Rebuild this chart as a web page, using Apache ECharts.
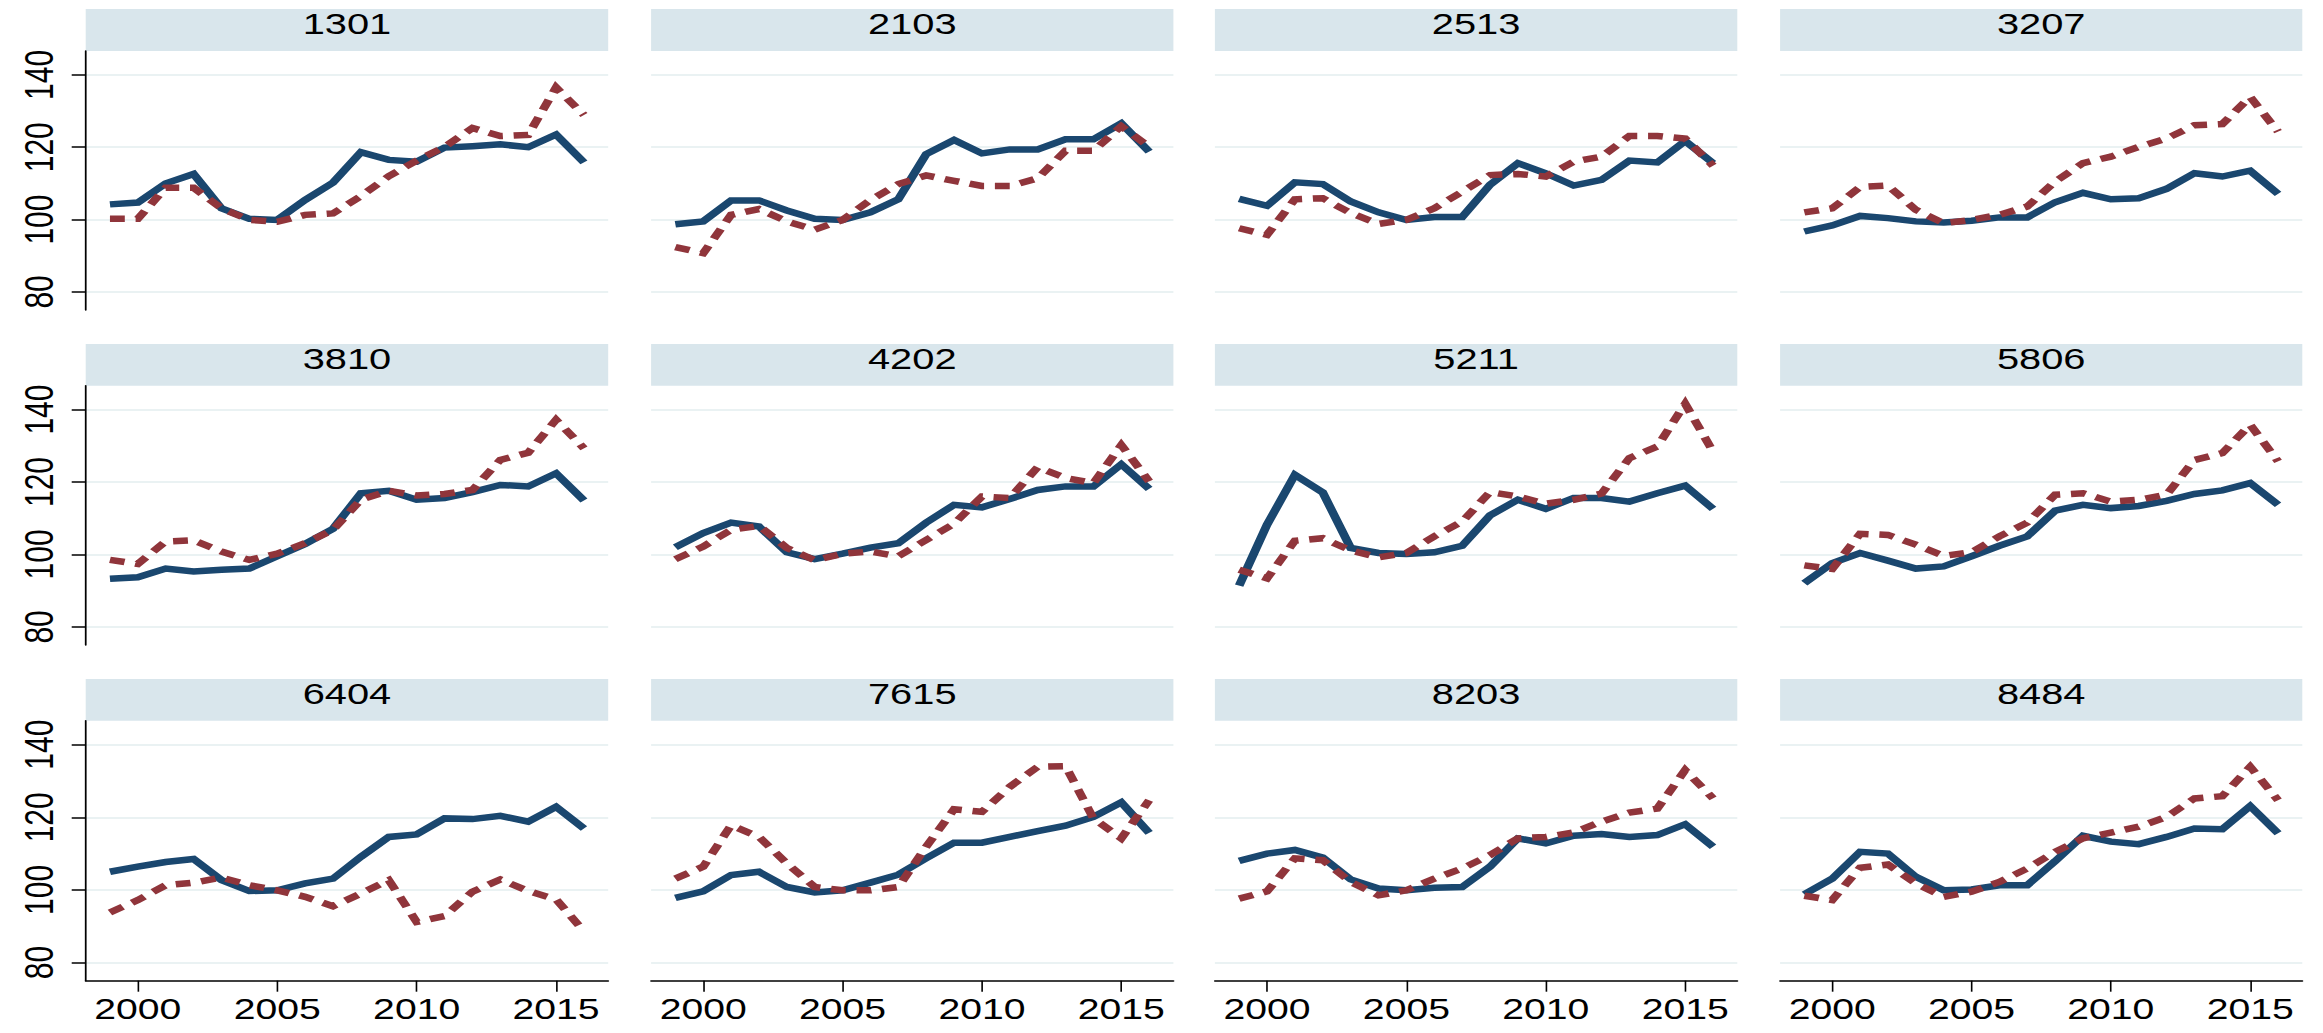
<!DOCTYPE html>
<html>
<head>
<meta charset="utf-8">
<script src="https://cdn.jsdelivr.net/npm/echarts@6/dist/echarts.min.js"></script>
<style>
  html, body { margin: 0; padding: 0; background: #ffffff; overflow: hidden; }
  #chart { height: 1033px; transform-origin: 0 0; }
</style>
</head>
<body>
<div id="chart"></div>
<script>
// Years on the horizontal axis and the panel codes (one small multiple per code)
const years = [1999, 2000, 2001, 2002, 2003, 2004, 2005, 2006, 2007, 2008, 2009, 2010, 2011, 2012, 2013, 2014, 2015, 2016];
const panelCodes = ['1301', '2103', '2513', '3207', '3810', '4202', '5211', '5806', '6404', '7615', '8203', '8484'];
const yTickValues = [80, 100, 120, 140];
const xTickValues = [2000, 2005, 2010, 2015];

// Solid navy series, per panel
const navy1301 = [104.2, 104.7, 110.0, 112.6, 103.1, 100.2, 99.9, 105.4, 110.2, 118.6, 116.5, 116.0, 119.9, 120.3, 120.8, 120.0, 123.5, 115.8];
const navy2103 = [98.7, 99.5, 105.3, 105.3, 102.5, 100.2, 99.9, 102.0, 105.6, 118.1, 122.0, 118.3, 119.4, 119.4, 122.2, 122.2, 126.6, 118.8];
const navy2513 = [105.7, 103.8, 110.3, 109.8, 105.0, 102.0, 99.9, 100.7, 100.7, 109.6, 115.6, 112.8, 109.4, 111.0, 116.3, 115.8, 121.7, 115.6];
const navy3207 = [96.7, 98.4, 101.0, 100.4, 99.5, 99.2, 99.7, 100.6, 100.6, 104.8, 107.4, 105.6, 105.9, 108.5, 112.8, 111.9, 113.5, 107.1];
const navy3810 = [93.3, 93.7, 96.1, 95.3, 95.8, 96.1, 99.5, 102.9, 107.1, 116.9, 117.6, 115.1, 115.6, 117.2, 119.2, 118.8, 122.4, 114.9];
const navy4202 = [102.0, 105.9, 108.8, 107.7, 100.6, 98.7, 100.2, 101.9, 103.1, 108.8, 113.7, 113.0, 115.3, 117.8, 118.8, 118.8, 124.9, 118.1];
const navy5211 = [91.4, 108.2, 122.0, 117.1, 101.8, 100.4, 100.1, 100.6, 102.4, 110.8, 115.1, 112.6, 115.6, 115.6, 114.6, 116.9, 119.0, 112.6];
const navy5806 = [92.1, 97.6, 100.4, 98.3, 96.1, 96.7, 99.5, 102.4, 105.0, 112.1, 113.7, 112.8, 113.4, 114.8, 116.7, 117.7, 119.7, 113.7];
const navy6404 = [105.0, 106.4, 107.7, 108.5, 102.7, 99.7, 99.9, 101.8, 103.1, 109.1, 114.6, 115.3, 119.7, 119.5, 120.4, 118.8, 122.9, 116.9];
const navy7615 = [97.8, 99.6, 104.1, 105.0, 100.8, 99.3, 99.9, 102.0, 104.2, 108.7, 113.0, 113.0, 114.6, 116.2, 117.7, 120.1, 124.1, 115.7];
const navy8203 = [108.0, 110.0, 111.0, 108.9, 102.9, 100.4, 99.9, 100.6, 100.8, 106.4, 114.2, 112.8, 114.9, 115.4, 114.6, 115.1, 118.1, 111.9];
const navy8484 = [98.8, 103.1, 110.5, 110.0, 103.6, 99.9, 100.1, 101.3, 101.3, 107.9, 114.9, 113.3, 112.6, 114.6, 116.9, 116.7, 123.1, 115.6];

// Dashed maroon series, per panel
const maroon1301 = [100.2, 100.2, 108.8, 108.8, 103.1, 99.9, 99.4, 101.3, 101.7, 106.5, 112.0, 116.3, 120.1, 125.3, 123.1, 123.4, 136.5, 128.9];
const maroon2103 = [92.4, 90.7, 101.3, 102.9, 99.5, 97.2, 99.9, 105.4, 109.8, 112.2, 110.7, 109.3, 109.3, 111.4, 119.0, 119.0, 125.8, 120.1];
const maroon2513 = [97.6, 95.8, 105.6, 105.9, 101.8, 98.8, 99.9, 103.1, 107.7, 112.3, 112.6, 111.9, 116.0, 117.4, 123.1, 123.1, 122.4, 114.9];
const maroon3207 = [102.0, 103.1, 109.0, 109.4, 102.7, 99.0, 99.9, 101.3, 103.6, 110.5, 115.6, 117.4, 120.1, 122.4, 126.1, 126.4, 133.9, 124.3];
const maroon3810 = [98.5, 97.4, 103.6, 103.9, 100.8, 98.5, 100.2, 103.1, 106.8, 115.1, 117.6, 116.3, 116.7, 117.8, 126.1, 128.1, 137.2, 129.3];
const maroon4202 = [98.7, 102.2, 106.8, 107.9, 101.8, 98.4, 100.2, 100.8, 99.5, 104.0, 108.5, 116.0, 115.6, 124.1, 121.1, 119.7, 130.2, 120.2];
const maroon5211 = [95.8, 93.4, 103.8, 104.5, 101.1, 99.2, 100.4, 105.0, 109.1, 117.2, 116.0, 114.0, 115.1, 116.8, 126.6, 129.8, 141.6, 128.4];
const maroon5806 = [97.0, 96.0, 105.7, 105.4, 102.7, 99.6, 100.6, 105.0, 108.8, 116.5, 116.9, 114.6, 115.1, 116.5, 126.1, 128.0, 135.8, 125.7];
const maroon6404 = [93.8, 97.2, 101.3, 102.0, 103.4, 101.3, 99.9, 98.1, 95.5, 99.0, 102.7, 91.2, 92.8, 99.5, 102.9, 99.7, 97.4, 88.6];
const maroon7615 = [103.1, 106.4, 117.8, 114.6, 107.3, 100.8, 99.9, 99.9, 100.8, 111.9, 122.2, 121.5, 128.4, 133.9, 134.1, 119.7, 114.2, 124.7];
const maroon8203 = [97.6, 99.6, 108.7, 108.2, 102.2, 98.5, 99.9, 103.1, 105.9, 109.6, 114.2, 114.6, 115.8, 118.8, 121.3, 122.4, 133.0, 125.2];
const maroon8484 = [98.4, 97.2, 106.1, 107.0, 101.8, 98.1, 99.5, 102.2, 105.9, 110.5, 114.2, 115.8, 117.4, 120.1, 125.2, 125.8, 133.9, 124.7];

const navySeries = [navy1301, navy2103, navy2513, navy3207, navy3810, navy4202, navy5211, navy5806, navy6404, navy7615, navy8203, navy8484];
const maroonSeries = [maroon1301, maroon2103, maroon2513, maroon3207, maroon3810, maroon4202, maroon5211, maroon5806, maroon6404, maroon7615, maroon8203, maroon8484];

// The figure is drawn on a narrower canvas and widened horizontally by STRETCH,
// giving the wide, horizontally stretched lettering and strokes of the layout.
const PAGE_W = 2323, PAGE_H = 1033;
const STRETCH = 1.35;
const sx = v => v / STRETCH;

// Panel layout in page pixels: column spans and row header / plot extents
const colSpans = [[85.7, 608.2], [651.1, 1173.4], [1214.9, 1737.3], [1780.1, 2302.3]];
const rowSpans = [
  { head: 9, top: 51, bottom: 310 },
  { head: 344, top: 385.7, bottom: 645 },
  { head: 679, top: 720.7, bottom: 980.7 }
];

const FONT = "'Liberation Sans', Arial, sans-serif";
const NAVY = '#1a476f';
const MAROON = '#90353b';
const STRIP = '#d9e6ec';
const GRIDLINE = '#eaf2f3';

const grids = [], xAxes = [], yAxes = [], series = [], graphics = [];

panelCodes.forEach((code, i) => {
  const row = Math.floor(i / 4), col = i % 4;
  const [x0, x1] = colSpans[col];
  const r = rowSpans[row];
  const isLeft = col === 0, isBottom = row === 2;

  grids.push({ left: sx(x0), top: r.top, width: sx(x1 - x0), height: r.bottom - r.top, containLabel: false });

  xAxes.push({
    type: 'value', gridIndex: i, min: 1998.13, max: 2016.87,
    show: isBottom,
    axisLine: { show: true, onZero: false, lineStyle: { color: '#000000', width: 1.5 } },
    axisTick: { show: true, customValues: xTickValues, length: 11, lineStyle: { color: '#000000', width: 1.2 } },
    axisLabel: {
      show: true, customValues: xTickValues, fontSize: 29, fontFamily: FONT, color: '#000000', margin: 14,
      formatter: v => String(v)
    },
    splitLine: { show: false }
  });

  yAxes.push({
    type: 'value', gridIndex: i, min: 75, max: 146.6,
    axisLine: { show: isLeft, lineStyle: { color: '#000000', width: 1.3 } },
    axisTick: { show: isLeft, customValues: yTickValues, length: sx(14), lineStyle: { color: '#000000', width: 1.5 } },
    axisLabel: {
      show: isLeft, customValues: yTickValues, rotate: 90, fontSize: 30, fontFamily: FONT, color: '#000000', margin: 19,
      formatter: v => String(v)
    },
    splitLine: { show: true, lineStyle: { color: GRIDLINE, width: 2 } }
  });

  series.push({
    type: 'line', name: code + ' navy', xAxisIndex: i, yAxisIndex: i,
    data: years.map((y, k) => [y, navySeries[i][k]]),
    showSymbol: false, symbol: 'none', silent: true, z: 3,
    lineStyle: { color: NAVY, width: 6.5, join: 'miter' },
    itemStyle: { color: NAVY }
  });
  series.push({
    type: 'line', name: code + ' maroon', xAxisIndex: i, yAxisIndex: i,
    data: years.map((y, k) => [y, maroonSeries[i][k]]),
    showSymbol: false, symbol: 'none', silent: true, z: 4,
    lineStyle: { color: MAROON, width: 6.5, type: [11, 8], join: 'miter' },
    itemStyle: { color: MAROON }
  });

  // Panel header strip with its code
  graphics.push({
    type: 'rect', silent: true,
    shape: { x: sx(x0), y: r.head, width: sx(x1 - x0), height: r.top - r.head },
    style: { fill: STRIP }
  });
  graphics.push({
    type: 'text', silent: true,
    x: sx((x0 + x1) / 2), y: r.head + 14,
    style: { text: code, fontSize: 29.5, fontFamily: FONT, fill: '#000000', align: 'center', verticalAlign: 'middle' }
  });
});

const dom = document.getElementById('chart');
dom.style.width = sx(PAGE_W) + 'px';
dom.style.transform = 'scaleX(' + STRETCH + ')';

const chart = echarts.init(dom, null, { renderer: 'svg', width: sx(PAGE_W), height: PAGE_H });
chart.setOption({
  animation: false,
  backgroundColor: '#ffffff',
  grid: grids,
  xAxis: xAxes,
  yAxis: yAxes,
  series: series,
  graphic: graphics
});
</script>
</body>
</html>
